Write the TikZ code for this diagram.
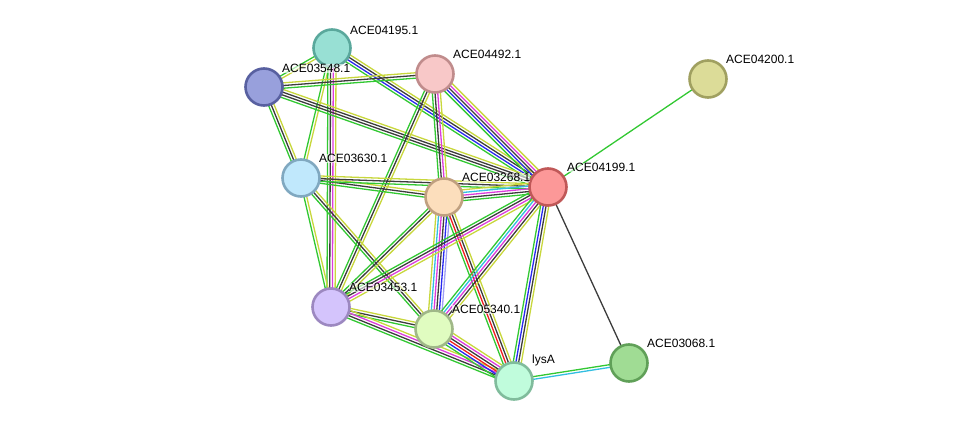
\documentclass[tikz,border=0pt]{standalone}
\usepackage{fontspec}
\setmainfont{Liberation Sans}
\usetikzlibrary{calc,backgrounds}
\definecolor{eg}{RGB}{50,200,50}
\definecolor{eb}{RGB}{40,40,240}
\definecolor{ek}{RGB}{60,60,60}
\definecolor{em}{RGB}{220,60,220}
\definecolor{ec}{RGB}{50,190,225}
\definecolor{ey}{RGB}{200,215,60}
\definecolor{er}{RGB}{240,30,30}
\definecolor{el}{RGB}{160,160,245}
\tikzset{
  prot/.style={circle, minimum size=37pt, inner sep=0pt, line width=2.6pt},
  lab/.style={anchor=south west, font=\fontsize{12pt}{13pt}\selectfont, inner sep=0pt, fill=white, fill opacity=0.6, text opacity=1},
  eline/.style={line width=1.3pt}
}
\newcommand\sedge[3]{%
  \foreach \c [count=\i] in {#3} {\xdef\nn{\i}}%
  \foreach \c [count=\i] in {#3} {%
    \pgfmathsetmacro\off{(\i-(\nn+1)/2)*2.7}%
    \draw[eline,\c] ($(#1.center)!\off pt!90:(#2.center)$) -- ($(#2.center)!\off pt!-90:(#1.center)$);
  }}
\begin{document}
\begin{tikzpicture}[x=1pt,y=-1pt]
\useasboundingbox (0,0) rectangle (976,427);
% nodes
\node[prot, fill={rgb,255:red,152;green,224;blue,212}, draw={rgb,255:red,90;green,168;blue,156}] (a) at (332,48) {};
\node[prot, fill={rgb,255:red,152;green,160;blue,220}, draw={rgb,255:red,88;green,96;blue,160}] (b) at (264,87) {};
\node[prot, fill={rgb,255:red,248;green,200;blue,200}, draw={rgb,255:red,192;green,140;blue,140}] (c) at (435,74) {};
\node[prot, fill={rgb,255:red,220;green,220;blue,152}, draw={rgb,255:red,160;green,160;blue,96}] (d) at (708,79) {};
\node[prot, fill={rgb,255:red,192;green,232;blue,252}, draw={rgb,255:red,128;green,168;blue,192}] (e) at (301,178) {};
\node[prot, fill={rgb,255:red,252;green,222;blue,188}, draw={rgb,255:red,192;green,160;blue,128}] (f) at (444,197) {};
\node[prot, fill={rgb,255:red,252;green,152;blue,152}, draw={rgb,255:red,192;green,88;blue,88}] (g) at (548,187) {};
\node[prot, fill={rgb,255:red,212;green,196;blue,252}, draw={rgb,255:red,156;green,136;blue,192}] (h) at (331,307) {};
\node[prot, fill={rgb,255:red,224;green,252;blue,192}, draw={rgb,255:red,160;green,184;blue,136}] (i) at (434,329) {};
\node[prot, fill={rgb,255:red,192;green,252;blue,220}, draw={rgb,255:red,128;green,188;blue,156}] (j) at (514,381) {};
\node[prot, fill={rgb,255:red,160;green,220;blue,148}, draw={rgb,255:red,96;green,160;blue,88}] (k) at (629,363) {};
% edges
\begin{scope}[on background layer]
\sedge{a}{b}{eg,ey}
\sedge{a}{g}{eg,eb,ek,ey}
\sedge{a}{e}{eg,ey}
\sedge{a}{h}{eg,ek,em,ey}
\sedge{b}{c}{eg,ek,ey}
\sedge{b}{g}{eg,ek,ek,ey}
\sedge{b}{e}{eg,ek,ey}
\sedge{c}{g}{eg,eb,ek,em,ey}
\sedge{c}{f}{eg,ek,em,ey}
\sedge{c}{h}{eg,ek,ey}
\sedge{e}{f}{eg,ek,ey}
\sedge{e}{g}{eg,ek,ey}
\sedge{e}{h}{eg,ey}
\sedge{e}{i}{eg,ek,ey}
\sedge{f}{g}{eg,ek,em,ec,ey}
\sedge{f}{h}{eg,ek,ey}
\sedge{f}{i}{ey,ec,em,ek,eb,el}
\sedge{f}{j}{eg,er,ek,ey}
\sedge{g}{h}{eg,ek,em,ey}
\sedge{g}{i}{eg,ec,em,ek,ey}
\sedge{g}{j}{eg,eb,ek,ey}
\sedge{g}{d}{eg}
\draw[eline, ek] (g.center) -- (k.center);
\sedge{h}{i}{eg,ek,ey}
\sedge{h}{j}{eg,ek,em,ey}
\sedge{i}{j}{eg,eb,er,ek,em,ey}
\sedge{j}{k}{ec,eg}
\end{scope}
% labels
\node[lab] at (350,35) {ACE04195.1};
\node[lab] at (282,73) {ACE03548.1};
\node[lab] at (453,59) {ACE04492.1};
\node[lab] at (726,64) {ACE04200.1};
\node[lab] at (319,163) {ACE03630.1};
\node[lab] at (462,182) {ACE03268.1};
\node[lab] at (567,172) {ACE04199.1};
\node[lab] at (349,292) {ACE03453.1};
\node[lab] at (452,314) {ACE05340.1};
\node[lab] at (532,366) {lysA};
\node[lab] at (647,348) {ACE03068.1};
\end{tikzpicture}
\end{document}
